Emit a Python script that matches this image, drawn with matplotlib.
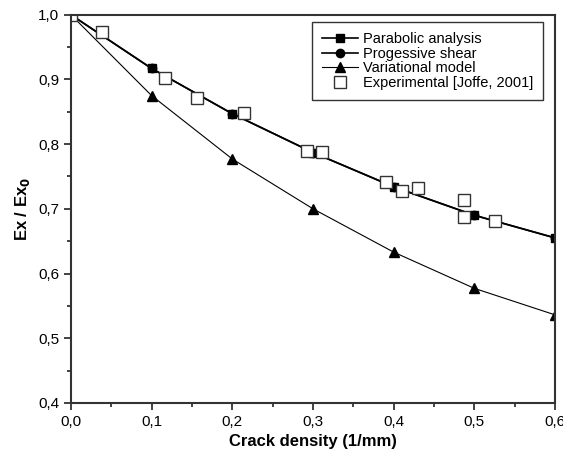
"""
Ex/Ex0 vs crack density: models and experiment
"""
import numpy as np
import matplotlib.pyplot as plt
from matplotlib.ticker import MultipleLocator, FuncFormatter

plt.rcParams['font.family'] = ['Liberation Sans', 'DejaVu Sans']

# data
x_model = [0.0, 0.1, 0.2, 0.3, 0.4, 0.5, 0.6]
parabolic = [1.0, 0.917, 0.847, 0.787, 0.734, 0.690, 0.655]
shear = [1.0, 0.917, 0.847, 0.787, 0.734, 0.690, 0.655]
variational = [1.0, 0.875, 0.777, 0.700, 0.633, 0.577, 0.536]

x_exp = [0.0, 0.039, 0.117, 0.156, 0.214, 0.293, 0.311, 0.390, 0.410, 0.430, 0.487, 0.487, 0.525]
y_exp = [1.0, 0.973, 0.902, 0.871, 0.848, 0.789, 0.788, 0.742, 0.728, 0.732, 0.714, 0.688, 0.681]

fig = plt.figure(figsize=(5.63, 4.62), dpi=100)
ax = fig.add_axes([0.126, 0.128, 0.86, 0.84])

ax.plot(x_model, parabolic, '-s', color='black', lw=1.2, ms=6, label='Parabolic analysis')
ax.plot(x_model, shear, '-o', color='black', lw=1.2, ms=6, label='Progessive shear')
ax.plot(x_model, variational, '-^', color='black', lw=0.8, ms=7, label='Variational model')
ax.plot(x_exp, y_exp, 's', mfc='white', mec='#333333', mew=1.0, ms=9, ls='none',
        label='Experimental [Joffe, 2001]')

ax.set_xlim(0, 0.6)
ax.set_ylim(0.4, 1.0)
ax.xaxis.set_major_locator(MultipleLocator(0.1))
ax.xaxis.set_minor_locator(MultipleLocator(0.05))
ax.yaxis.set_major_locator(MultipleLocator(0.1))
ax.yaxis.set_minor_locator(MultipleLocator(0.05))
comma = FuncFormatter(lambda v, p: f"{v:.1f}".replace('.', ','))
ax.xaxis.set_major_formatter(comma)
ax.yaxis.set_major_formatter(comma)
ax.tick_params(which='major', direction='out', length=5, width=1.2, labelsize=11, color='#222222')
ax.tick_params(which='minor', direction='out', length=3, width=1.2, color='#222222')
for s in ax.spines.values():
    s.set_linewidth(1.5)
    s.set_color('#333333')

ax.set_xlabel("Crack density (1/mm)", fontsize=12, fontweight='bold')
ax.set_ylabel("Ex / Ex$_\\mathbf{0}$", fontsize=12, fontweight='bold')

leg = ax.legend(loc='upper right', fontsize=10.5, frameon=True, fancybox=False,
                edgecolor='black', handlelength=2.5, handletextpad=0.3,
                borderpad=0.7, labelspacing=0.05, borderaxespad=0,
                bbox_to_anchor=(0.975, 0.982))
leg.get_frame().set_linewidth(1.0)

plt.savefig("out.png", dpi=100)
